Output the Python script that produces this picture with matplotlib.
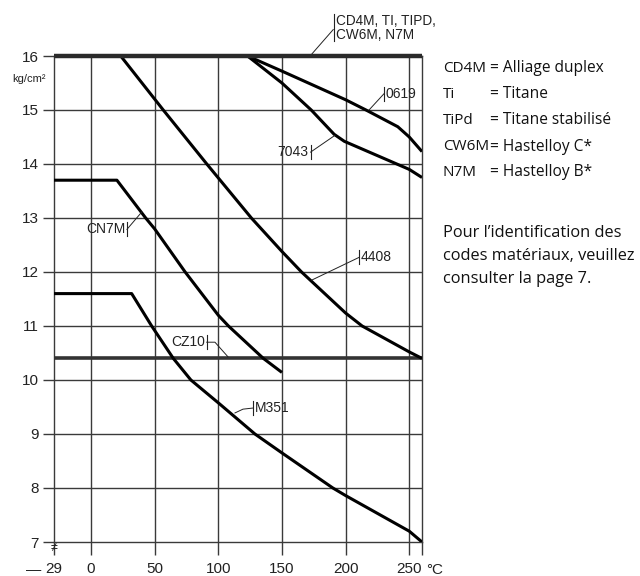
import matplotlib
matplotlib.use("Agg")
import matplotlib.pyplot as plt

# temperatures (°C) and pressures (kg/cm²)
top_x = [-29, 260]
top_y = [16, 16]

cz10_x = [-29, 260]
cz10_y = [10.4, 10.4]

a4408_x = [23.4, 56.8, 91, 126, 150, 165.4, 200, 213, 250, 260]
a4408_y = [16, 15, 14, 13, 12.38, 12, 11.24, 11, 10.52, 10.4]

a7043_x = [123, 150, 173, 191, 199, 250, 260]
a7043_y = [16, 15.5, 15, 14.55, 14.42, 13.9, 13.75]

a0619_x = [123, 150, 200, 216, 241, 250, 260]
a0619_y = [16, 15.72, 15.19, 15.0, 14.69, 14.5, 14.23]

cn7m_x = [-29, 20.4, 43, 50, 74, 100, 108, 135.4, 150]
cn7m_y = [13.7, 13.7, 13, 12.8, 12, 11.2, 11, 10.4, 10.14]

m351_x = [-29, 32, 47.7, 64.7, 78.5, 101.4, 128.8, 150, 190, 200, 250, 260]
m351_y = [11.6, 11.6, 11, 10.4, 10, 9.55, 9, 8.65, 8, 7.86, 7.2, 7.0]

xticks = [-29, 0, 50, 100, 150, 200, 250, 260]
xticklabels = ["29", "0", "50", "100", "150", "200", "250", ""]
yticks = [7, 8, 9, 10, 11, 12, 13, 14, 15, 16]

legend_codes = ["CD4M", "Ti", "TiPd", "CW6M", "N7M"]
legend_names = ["= Alliage duplex", "= Titane", "= Titane stabilisé",
                "= Hastelloy C*", "= Hastelloy B*"]
note_lines = ["Pour l\u2019identification des",
              "codes matériaux, veuillez",
              "consulter la page 7."]

plt.rcParams['font.family'] = ['Liberation Sans', 'DejaVu Sans']

fig = plt.figure(figsize=(6.4, 5.76), dpi=100)
ax = fig.add_axes([54 / 640, 1 - 542 / 576, 368 / 640, 486 / 576])
ax.set_xlim(-29, 260)
ax.set_ylim(7, 16)

grid_c = "#3a3a3a"
for x in xticks[1:-1]:
    ax.axvline(x, color=grid_c, lw=1.0, zorder=1)
for y in yticks[1:-1]:
    ax.axhline(y, color=grid_c, lw=1.0, zorder=1)
for s in ax.spines.values():
    s.set_color(grid_c)
    s.set_linewidth(1.0)

ax.set_xticks(xticks)
ax.set_xticklabels(xticklabels)
ax.set_yticks(yticks)
ax.tick_params(axis="x", length=9.5, width=1.0, color=grid_c, pad=5,
               labelsize=11, labelcolor="#222")
ax.tick_params(axis="y", length=8, width=1.0, color=grid_c, pad=3,
               labelsize=11, labelcolor="#222")

# data lines
ax.plot(top_x, top_y, color="#2a2a2a", lw=3.2, solid_capstyle="butt",
        clip_on=False, zorder=4)
ax.plot(cz10_x, cz10_y, color="#333", lw=2.6, solid_capstyle="butt", zorder=3)
for xs, ys in [(a4408_x, a4408_y), (a7043_x, a7043_y), (a0619_x, a0619_y),
               (cn7m_x, cn7m_y), (m351_x, m351_y)]:
    ax.plot(xs, ys, color="black", lw=2.2, solid_joinstyle="round",
            solid_capstyle="butt", zorder=3)


def tag(text, bar_x, bar_y, path, side="right", size=10):
    """label with a little vertical bar and a thin leader line"""
    ax.plot([bar_x, bar_x], [bar_y - 0.13, bar_y + 0.13], color="#222",
            lw=0.8, clip_on=False, zorder=5)
    px = [bar_x] + [p[0] for p in path]
    py = [bar_y] + [p[1] for p in path]
    ax.plot(px, py, color="#222", lw=0.7, clip_on=False, zorder=5)
    if side == "right":
        ax.text(bar_x + 1.5, bar_y, text, ha="left", va="center",
                fontsize=size, color="#222", zorder=6)
    else:
        ax.text(bar_x - 1.5, bar_y, text, ha="right", va="center",
                fontsize=size, color="#222", zorder=6)


tag("0619", 230.1, 15.3, [(218.4, 15.0)])
tag("7043", 172.5, 14.22, [(191.6, 14.53)], side="left")
tag("4408", 210.5, 12.27, [(173.4, 11.85)])
tag("CN7M", 28.3, 12.79, [(39.9, 13.11)], side="left")
tag("CZ10", 90.9, 10.7, [(97.4, 10.7), (107.6, 10.43)], side="left")
tag("M351", 127.0, 9.48, [(119.4, 9.46), (113.1, 9.39)])

# top label (above the plot)
ax.plot([190.9, 190.9], [16.27, 16.77], color="#222", lw=0.8, clip_on=False)
ax.plot([190.3, 173.6], [16.49, 16.04], color="#222", lw=0.7, clip_on=False)
ax.text(192.8, 16.52, "CD4M, TI, TIPD,\nCW6M, N7M", ha="left", va="center",
        fontsize=9.8, linespacing=1.0, color="#222", clip_on=False)

ax.text(-29, 7, "\u2260", ha="center", va="top", fontsize=9, color="#222")
ax.annotate("\u2014", xy=(-29, 7), xytext=(-15, -20), textcoords="offset points",
            ha="center", va="center", fontsize=11, color="#222")
ax.annotate("°C", xy=(260, 7), xytext=(9, -20), textcoords="offset points",
            ha="center", va="center", fontsize=11, color="#222")

fig.text(29 / 640, 1 - 79 / 576, "kg/cm\u00b2", ha="center", va="center",
         fontsize=8, color="#222")

# right-hand key
key_font = ["Open Sans", "DejaVu Sans"]
rows_y = [68, 94, 120, 147, 172]
for code, name, py in zip(legend_codes, legend_names, rows_y):
    fig.text(443 / 640, 1 - py / 576, code, ha="left", va="center",
             fontsize=11.0, family=key_font, color="#111")
    fig.text(490 / 640, 1 - py / 576, name, ha="left", va="center",
             fontsize=11.2, family=key_font, color="#111")
for line, py in zip(note_lines, [233, 256, 279]):
    fig.text(443 / 640, 1 - py / 576, line, ha="left", va="center",
             fontsize=11.8, family=key_font, color="#111")

fig.savefig("out.png", dpi=100)
